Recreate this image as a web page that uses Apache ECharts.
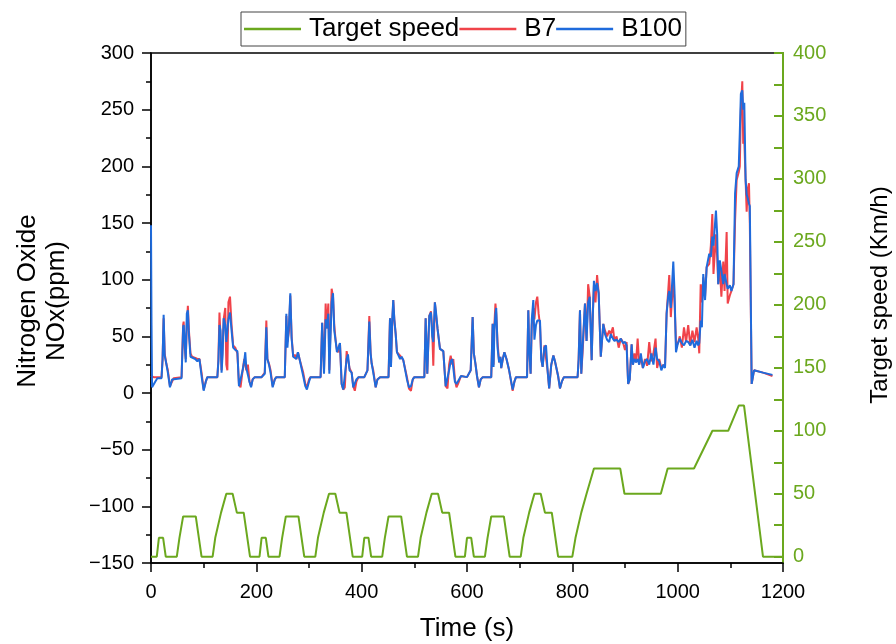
<!DOCTYPE html>
<html>
<head>
<meta charset="utf-8">
<script src="https://cdn.jsdelivr.net/npm/echarts@6/dist/echarts.min.js"></script>
<style>html,body{margin:0;padding:0;background:#fff}#c{width:896px;height:644px}</style>
</head>
<body>
<div id="c"></div>
<script>
// ---- Target speed (NEDC) ----
const speedTime = [0,11,15,23,28,49,54,56,61,85,96,117,122,124,133,135,143,155,163,176,188,
  206,210,218,223,244,249,251,256,280,291,312,317,319,328,330,338,350,358,371,383,
  401,405,413,418,439,444,446,451,475,486,507,512,514,523,525,533,545,553,566,578,
  596,600,608,613,634,639,641,646,670,681,702,707,709,718,720,728,740,748,761,773,
  800,806,808,817,819,827,829,841,891,899,968,981,1031,1066,1096,1116,1126,1162,1200];
const speedKmh = [0,0,15,15,0,0,15,15,32,32,0,0,15,15,35,35,50,50,35,35,0,
  0,15,15,0,0,15,15,32,32,0,0,15,15,35,35,50,50,35,35,0,
  0,15,15,0,0,15,15,32,32,0,0,15,15,35,35,50,50,35,35,0,
  0,15,15,0,0,15,15,32,32,0,0,15,15,35,35,50,50,35,35,0,
  0,15,15,35,35,50,50,70,70,50,50,70,70,100,100,120,120,0,0];

// ---- NOx (ppm) ----
const noxTime = [0,1,2,5,8,12,20,22,24,26,29,32,36,40,43,58,61,62,64,66,68,70,72,75,78,84,88,92,96,100,104,107,
  126,128,130,132,134,136,138,141,143,145,147,150,153,156,160,164,167,170,174,177,179,181,184,187,190,193,197,
  210,216,219,221,224,227,231,235,238,254,257,259,262,264.5,267,270,273,276,279,282,285.5,289,293,296,300,303,
  322,325,328.5,331.6,333.5,336.7,338.6,343,345.6,348,350.6,353,355.7,358.8,362,365,368,371.5,374,377,381,384,387,390,394,
  405,411,414.5,417,419,422,426.6,430,435,451,453.8,455.7,458,460,462,464.6,467,469.6,473,476,479,482,486,489.8,493.6,497,500,
  519,521.5,524.6,528.4,531.6,534,536,539,541,544,548.7,552,555,559.5,563,566,569,572,574,577,580,583,588.6,
  600,607,610.7,613,616,619,622.7,626,630,646,648.7,650.4,652,654,655.5,658,661,663.4,665,668,671,675,680,686.7,690,693,
  714,716.4,718,720.8,723,725.9,728,731,733.5,736,738.6,741,743.6,747,750,753,756,760,764,767,770,773,776.5,780,784,
  800,810,812,814.5,817,820,824,827,830,833,836.7,839,841,844,847,850,854,858.8,862,866,870,873,877,880,884,888,892,896,900,903,906,909,
  912.6,915,918,921,924,927,930,934,938,942,946,950,954,958,961,965,969,973,976,
  979,982,984,987,991.7,994,996.8,1000,1004,1008,1012,1016,1020,1024,1028,1032,1036,1039,1041,
  1043.7,1046,1048.6,1052,1055,1060,1063,1065.8,1068,1072.7,1075,1077,1080,1083,1086.6,1089,1093,1095,1099,1102,1106,
  1109,1112,1116,1118,1120,1122.7,1124.5,1126.5,1129,1131,1133,1135.4,1137,1140.5,1145,1162,1180];
const b7 = [15,15,15,14,14,14,14,30,66,35,26,20,6,10,13,14,60,63,40,30,60,77,55,35,32,31,30,30,18,3,10,14,
  14,30,71,50,20,40,65,75,25,20,80,85,60,42,40,35,8,5,20,30,30,20,25,10,6,12,14,
  14,18,64,30,26,20,6,12,14,14,68,45,55,86,50,32,34,30,36,30,29,18,8,5,12,14,
  14,62,20,79,57,79,20,92,85,60,46,38,36,44,8,3,5,37,30,22,18,6,2,10,14,
  14,20,68,35,26,20,5,12,14,14,66,25,60,82,65,52,36,35,33,32,29,29,14,4,2,12,14,
  14,66,17,68,72,55,24,80,70,57,39,40,37,6,4,25,33,25,30,12,5,8,15,
  14,20,67,35,26,15,5,12,14,14,61,25,60,79,70,45,27,32,22,30,36,30,20,2,10,14,
  14,73,40,17,60,75,65,80,85,70,60,30,23,42,42,20,4,25,33,28,28,15,4,10,14,
  14,14,30,73,17,40,79,46,96,85,29,70,95,80,104,88,32,61,55,50,55,52,58,46,50,40,48,45,38,45,8,12,
  43,25,35,27,48,25,32,22,30,24,45,28,35,48,22,30,22,25,23,
  70,90,104,67,100,80,45,43,50,40,58,45,60,42,55,45,58,48,35,
  96,80,102,85,111,114,130,158,105,140,120,96,111,85,116,90,142,79,86,90,96,
  152,188,195,200,250,275,220,223,188,160,180,185,150,8,20,18,15];
const b100 = [148,60,5,4,10,13,13,30,69,33,26,18,5,12,13,13,58,60,45,27,70,73,52,32,31,30,28,30,15,2,10,14,
  14,28,60,55,18,35,66,60,45,55,65,71,55,40,38,37,6,5,20,28,36,22,22,10,5,12,14,
  14,17,58,30,25,18,5,12,14,14,70,40,60,88,48,32,33,30,36,30,29,15,6,3,10,14,
  14,62,17,65,57,70,17,80,88,55,46,36,36,44,8,3,4,30,34,20,18,5,5,12,14,
  14,20,63,35,26,18,5,12,14,14,66,23,65,82,65,52,36,35,30,32,29,28,12,5,6,12,14,
  14,66,17,68,71,50,45,80,72,57,39,38,37,6,5,20,28,30,30,10,8,8,15,
  14,20,67,35,26,15,5,12,14,14,61,23,55,70,75,40,27,32,22,30,36,30,20,3,10,14,
  14,73,40,17,65,82,47,60,64,64,64,30,23,40,42,20,4,25,33,28,28,15,4,10,14,
  14,14,30,73,17,45,79,46,80,85,29,70,99,90,97,88,32,61,52,47,45,52,48,46,47,45,48,44,45,42,8,12,
  43,25,30,27,30,25,35,22,28,30,25,35,25,40,30,28,20,25,22,
  70,85,90,75,116,90,36,43,48,44,42,46,45,42,47,40,46,42,44,
  64,58,105,82,111,123,120,138,130,161,140,96,117,108,96,105,96,92,95,90,96,
  176,194,200,230,264,267,250,256,188,175,172,167,165,8,20,18,16];

// ---- axis ticks ----
const xTicks = [0,200,400,600,800,1000,1200];
const leftTicks = [-150,-100,-50,0,50,100,150,200,250,300];
const rightLabels = [0,50,100,150,200,250,300,350,400];
const rightTickMarks = [0,25,50,75,100,125,150,175,200,225,250,275,300,325,350,375,400];

const zip = (xs, ys) => xs.map((x, i) => [x, ys[i]]);
const FONT = "'Liberation Sans', Arial, sans-serif";
const GREEN = '#6BA81E', RED = '#F0434A', BLUE = '#1F6BDC';

const chart = echarts.init(document.getElementById('c'), null, {renderer: 'canvas'});
chart.setOption({
  animation: false,
  backgroundColor: '#fff',
  textStyle: {fontFamily: FONT},
  grid: {left: 151, right: 113, top: 53, bottom: 81, containLabel: false, outerBoundsMode: 'none',
         show: true, borderColor: '#000', borderWidth: 1.5, backgroundColor: 'transparent'},
  legend: {
    left: 241, top: 12, orient: 'horizontal',
    icon: 'rect', itemWidth: 57, itemHeight: 2.5, itemGap: 0,
    padding: [4, 4, 4, 3],
    borderColor: '#444', borderWidth: 1,
    textStyle: {fontFamily: FONT, fontSize: 26, color: '#000', padding: [0, 0, 0, 3]},
    data: ['Target speed', 'B7', 'B100']
  },
  xAxis: {
    type: 'value', min: 0, max: 1200, interval: 200,
    name: 'Time (s)', nameLocation: 'middle', nameGap: 53,
    nameTextStyle: {fontFamily: FONT, fontSize: 26, color: '#000'},
    axisLine: {show: true, onZero: false, lineStyle: {color: '#000', width: 1.5}},
    axisTick: {show: true, length: 9, lineStyle: {color: '#000', width: 1.5}},
    minorTick: {show: true, splitNumber: 2, length: 5, lineStyle: {color: '#000', width: 1.5}},
    axisLabel: {fontFamily: FONT, fontSize: 20, color: '#000', margin: 19,
      formatter: v => String(v), customValues: xTicks},
    splitLine: {show: false}
  },
  yAxis: [{
    type: 'value', position: 'left', min: -150, max: 300, interval: 50,
    name: 'Nitrogen Oxide\nNOx(ppm)', nameLocation: 'middle', nameGap: 80, nameRotate: 90,
    nameTextStyle: {fontFamily: FONT, fontSize: 26, color: '#000', lineHeight: 29, align: 'center',
      padding: [0, 0, 0, 14]},
    axisLine: {show: true, onZero: false, lineStyle: {color: '#000', width: 1.5}},
    axisTick: {show: true, length: 9, lineStyle: {color: '#000', width: 1.5}},
    minorTick: {show: true, splitNumber: 2, length: 5, lineStyle: {color: '#000', width: 1.5}},
    axisLabel: {fontFamily: FONT, fontSize: 20, color: '#000', margin: 17,
      formatter: v => String(v).replace('-', '\u2212'), customValues: leftTicks},
    splitLine: {show: false}
  }, {
    type: 'value', position: 'right', min: -5, max: 400,
    name: 'Target speed (Km/h)', nameLocation: 'middle', nameGap: 85, nameRotate: 90,
    nameTextStyle: {fontFamily: FONT, fontSize: 24, color: '#000', padding: [0, 0, 0, 26]},
    axisLine: {show: true, onZero: false, lineStyle: {color: GREEN, width: 2}},
    axisTick: {show: true, inside: true, length: 9, lineStyle: {color: GREEN, width: 2},
      customValues: rightTickMarks},
    axisLabel: {fontFamily: FONT, fontSize: 20, color: GREEN, margin: 10,
      formatter: v => String(v), customValues: rightLabels},
    splitLine: {show: false}
  }],
  series: [{
    name: 'Target speed', type: 'line', yAxisIndex: 1, data: zip(speedTime, speedKmh),
    symbol: 'none', lineStyle: {color: GREEN, width: 2}, itemStyle: {color: GREEN}, z: 2
  }, {
    name: 'B7', type: 'line', yAxisIndex: 0, data: zip(noxTime, b7),
    symbol: 'none', lineStyle: {color: RED, width: 2}, itemStyle: {color: RED}, z: 3
  }, {
    name: 'B100', type: 'line', yAxisIndex: 0, data: zip(noxTime, b100),
    symbol: 'none', lineStyle: {color: BLUE, width: 2}, itemStyle: {color: BLUE}, z: 4
  }]
});
</script>
</body>
</html>
